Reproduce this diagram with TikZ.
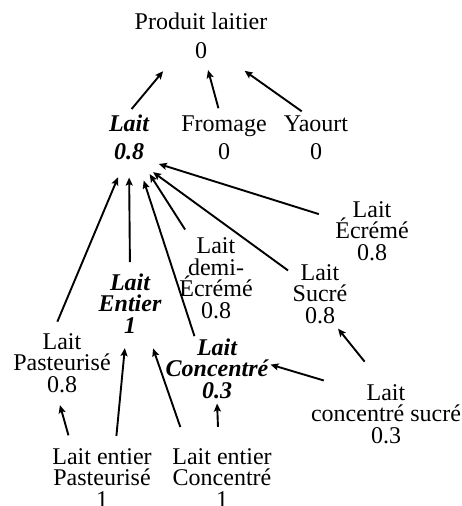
\documentclass[tikz,border=0pt]{standalone}
\usepackage{fontspec}
\setmainfont{Liberation Serif}
\usetikzlibrary{arrows.meta}

\tikzset{
  produit/.style={align=center, anchor=base, inner sep=2pt, font=\fontsize{24}{21.5}\selectfont},
  cle/.style={produit, font=\fontsize{24}{21.5}\selectfont\bfseries\itshape},
  isa/.style={-{Stealth[length=8pt,width=7pt,inset=1.5pt]}, line width=1.9pt},
}

\begin{document}
\begin{tikzpicture}[x=1pt,y=-1pt]
\useasboundingbox (0,0) rectangle (462,506);

% racine et premier niveau
\node[produit] (prod) at (201,58) {Produit laitier\\[7.5pt]0};
\node[cle] (lait) at (129,159) {Lait\\[6.5pt]0.8};
\node[produit] (fromage) at (224,159) {Fromage\\[6.5pt]0};
\node[produit] (yaourt) at (316,159) {Yaourt\\[6.5pt]0};

% sortes de lait
\node[produit] (ecreme) at (372,260) {Lait\\Écrémé\\0.8};
\node[produit] (demi) at (216,318) {Lait\\demi-\\Écrémé\\0.8};
\node[produit] (sucre) at (320,323) {Lait\\Sucré\\0.8};
\node[cle] (entier) at (130,333) {Lait\\Entier\\1};
\node[produit] (pasteurise) at (62,392) {Lait\\Pasteurisé\\0.8};
\node[cle] (concentre) at (217,398) {Lait\\Concentré\\0.3};
\node[produit] (csucre) at (386,443) {Lait\\concentré sucré\\0.3};

% dernier niveau
\node[produit] (epast) at (102,507) {Lait entier\\Pasteurisé\\1};
\node[produit] (econc) at (222,507) {Lait entier\\Concentré\\1};

\draw[isa, shorten <=4pt, shorten >=14pt] (lait.north) -- (prod.221);
\draw[isa, shorten <=5pt, shorten >=10pt] (fromage.100) -- (prod.-80);
\draw[isa, shorten <=3pt, shorten >=18pt] (yaourt.116) -- (prod.-41);

\draw[isa, shorten <=15pt, shorten >=8pt] (ecreme) -- (lait.south east);
\draw[isa, shorten <=3pt, shorten >=18pt] (sucre) -- (lait.-69);
\draw[isa, shorten <=7pt, shorten >=15pt] (demi) -- (lait.-63);
\draw[isa, shorten >=20pt] (concentre.125) -- (lait.-71);
\draw[isa, shorten <=9pt, shorten >=16pt] (entier.north) -- (lait.south);
\draw[isa, shorten <=10pt, shorten >=17pt] (pasteurise.105) -- (lait.-100);

\draw[isa, shorten <=26pt, shorten >=4pt] (csucre.99) -- (sucre.-64);
\draw[isa, shorten <=5pt] (csucre.151) -- (concentre.4);
\draw[isa, shorten <=11pt, shorten >=11pt] (epast.134) -- (pasteurise.-99);
\draw[isa, shorten <=10pt, shorten >=13pt] (epast.67) -- (entier.-97);
\draw[isa, shorten <=20pt, shorten >=14pt] (econc.138) -- (entier.-60);
\draw[isa, shorten <=19pt, shorten >=3pt] (econc.96) -- (concentre.south);
\end{tikzpicture}
\end{document}
